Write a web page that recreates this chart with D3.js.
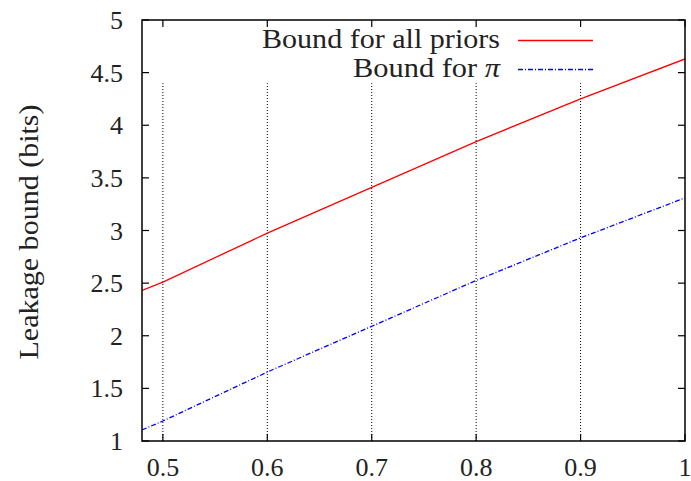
<!DOCTYPE html>
<html>
<head>
<meta charset="utf-8">
<script src="https://cdn.jsdelivr.net/npm/d3@7"></script>
<style>
  body { margin: 0; background: #fff; }
  text { font-family: "Liberation Serif", "Times New Roman", serif; fill: #222; }
</style>
</head>
<body>
<svg id="chart" width="691" height="481"></svg>
<script>
// values
var xs = [0.48, 0.5, 0.6, 0.7, 0.8, 0.9, 1.0];
var allPriors = [2.43, 2.51, 2.975, 3.41, 3.845, 4.25, 4.63];
var forPi = [1.105, 1.19, 1.655, 2.09, 2.525, 2.93, 3.31];
var xTicks = [0.5, 0.6, 0.7, 0.8, 0.9, 1.0];
var yTicks = [1, 1.5, 2, 2.5, 3, 3.5, 4, 4.5, 5];
var gridTop = 4.4;

var svg = d3.select("#chart");
var plotL = 142, plotR = 685, plotT = 20, plotB = 441;

var x = d3.scaleLinear().domain([0.48, 1.0]).range([plotL, plotR]);
var y = d3.scaleLinear().domain([1, 5]).range([plotB, plotT]);

// dotted grid lines (stop under the key)
svg.append("g").selectAll("line")
  .data(xTicks.slice(0, 5))
  .enter().append("line")
  .attr("x1", function(d) { return x(d); })
  .attr("x2", function(d) { return x(d); })
  .attr("y1", y(1))
  .attr("y2", y(gridTop))
  .attr("stroke", "#000")
  .attr("stroke-width", 1)
  .attr("stroke-dasharray", "1,2");

// ticks, inward, mirrored on top and right
var tk = 7;
var ticks = svg.append("g").attr("stroke", "#000").attr("stroke-width", 1.2);
xTicks.forEach(function(d) {
  ticks.append("line").attr("x1", x(d)).attr("x2", x(d)).attr("y1", plotB).attr("y2", plotB - tk);
  ticks.append("line").attr("x1", x(d)).attr("x2", x(d)).attr("y1", plotT).attr("y2", plotT + tk);
});
yTicks.forEach(function(d) {
  ticks.append("line").attr("x1", plotL).attr("x2", plotL + tk).attr("y1", y(d)).attr("y2", y(d));
  ticks.append("line").attr("x1", plotR).attr("x2", plotR - tk).attr("y1", y(d)).attr("y2", y(d));
});

// tick labels
svg.append("g").selectAll("text")
  .data(xTicks)
  .enter().append("text")
  .attr("x", function(d) { return x(d); })
  .attr("y", 476)
  .attr("text-anchor", "middle")
  .style("font-size", "26px")
  .text(function(d) { return d3.format("")(d); });

svg.append("g").selectAll("text")
  .data(yTicks)
  .enter().append("text")
  .attr("x", 123)
  .attr("y", function(d) { return y(d) + 9; })
  .attr("text-anchor", "end")
  .style("font-size", "26px")
  .text(function(d) { return d3.format("")(d); });

// y axis title
svg.append("text")
  .attr("transform", "translate(38,232) rotate(-90)")
  .attr("text-anchor", "middle")
  .attr("textLength", 255)
  .attr("lengthAdjust", "spacingAndGlyphs")
  .style("font-size", "28px")
  .text("Leakage bound (bits)");

// series lines
var line = d3.line()
  .x(function(d) { return x(d[0]); })
  .y(function(d) { return y(d[1]); });

svg.append("defs").append("clipPath").attr("id", "plot")
  .append("rect").attr("x", plotL).attr("y", plotT).attr("width", plotR - plotL).attr("height", plotB - plotT);

svg.append("path")
  .datum(d3.zip(xs, allPriors))
  .attr("clip-path", "url(#plot)")
  .attr("d", line)
  .attr("fill", "none")
  .attr("stroke", "#ff0000")
  .attr("stroke-width", 1.3);

svg.append("path")
  .datum(d3.zip(xs, forPi))
  .attr("clip-path", "url(#plot)")
  .attr("d", line)
  .attr("fill", "none")
  .attr("stroke", "#0000ff")
  .attr("stroke-width", 1.3)
  .attr("stroke-dasharray", "5,2,1,2");

// key
var key = svg.append("g");
key.append("text")
  .attr("x", 500).attr("y", 48)
  .attr("text-anchor", "end")
  .attr("textLength", 238)
  .attr("lengthAdjust", "spacingAndGlyphs")
  .style("font-size", "27px")
  .text("Bound for all priors");
key.append("line")
  .attr("x1", 518).attr("x2", 593).attr("y1", 40.5).attr("y2", 40.5)
  .attr("stroke", "#ff0000").attr("stroke-width", 1.3);

var t2 = key.append("text")
  .attr("x", 500).attr("y", 77)
  .attr("text-anchor", "end")
  .attr("textLength", 147)
  .attr("lengthAdjust", "spacingAndGlyphs")
  .style("font-size", "27px");
t2.append("tspan").text("Bound for ");
t2.append("tspan").style("font-style", "italic").text("π");
key.append("line")
  .attr("x1", 518).attr("x2", 593).attr("y1", 69.5).attr("y2", 69.5)
  .attr("stroke", "#0000ff").attr("stroke-width", 1.3)
  .attr("stroke-dasharray", "5,2,1,2");

// frame
svg.append("rect")
  .attr("x", plotL).attr("y", plotT)
  .attr("width", plotR - plotL).attr("height", plotB - plotT)
  .attr("fill", "none")
  .attr("stroke", "#000")
  .attr("stroke-width", 1.5);
</script>
</body>
</html>
